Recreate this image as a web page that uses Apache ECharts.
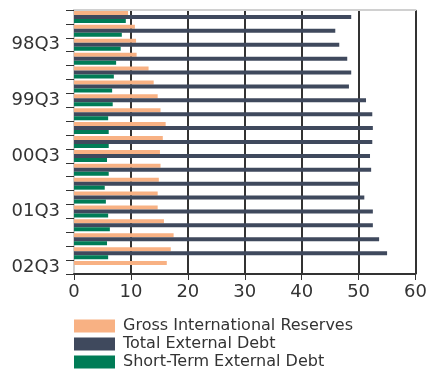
<!DOCTYPE html>
<html>
<head>
<meta charset="utf-8">
<script src="https://cdn.jsdelivr.net/npm/echarts@6/dist/echarts.min.js"></script>
<style>html,body{margin:0;padding:0;background:#fff}#c{width:430px;height:369px}</style>
</head>
<body>
<div id="c"></div>
<script>
var categories = ['98Q1','98Q2','98Q3','98Q4','99Q1','99Q2','99Q3','99Q4','00Q1','00Q2','00Q3','00Q4','01Q1','01Q2','01Q3','01Q4','02Q1','02Q2','02Q3'];
var grossReserves = [9.5,10.7,10.9,11.0,13.1,14.0,14.7,15.2,16.1,15.6,15.1,15.2,14.9,14.7,14.7,15.8,17.5,17.0,16.3];
var totalDebt = [48.7,45.9,46.6,48.0,48.7,48.3,51.3,52.4,52.5,52.4,52.0,52.2,50.1,51.0,52.5,52.5,53.6,55.0,null];
var shortTermDebt = [9.1,8.4,8.2,7.4,7.0,6.7,6.8,6.0,6.1,6.1,5.8,6.1,5.4,5.6,6.0,6.3,5.8,6.0,null];
var xTicks = {min:0, max:60, interval:10};
var names = ['Gross International Reserves','Total External Debt','Short-Term External Debt'];
var colors = ['#F8B183','#3F495D','#007C56'];
var font = 'DejaVu Sans';

var chart = echarts.init(document.getElementById('c'), null, {renderer:'canvas'});
chart.setOption({
  animation:false,
  color: colors,
  grid:{left:74, right:13, top:10, bottom:95, containLabel:false},
  legend:{
    orient:'vertical', left:74, top:318, height:60, width:340, padding:0,
    itemWidth:41, itemHeight:13, itemGap:2,
    icon:'rect', textStyle:{fontFamily:font, fontSize:16, color:'#333', padding:[0,0,0,3]},
    data:names
  },
  xAxis:[{
    type:'value', min:xTicks.min, max:xTicks.max, interval:xTicks.interval,
    axisLine:{show:true, lineStyle:{color:'#333', width:2}},
    axisTick:{show:true, length:6, lineStyle:{color:'#333', width:1}},
    axisLabel:{fontFamily:font, fontSize:18, color:'#333', margin:9},
    splitLine:{show:true, lineStyle:{color:'#333', width:2}}
  },{
    type:'value', position:'top', min:xTicks.min, max:xTicks.max, interval:xTicks.interval,
    axisLine:{show:true, lineStyle:{color:'#d0d0d0', width:2}},
    axisTick:{show:false}, axisLabel:{show:false}, splitLine:{show:false}
  }],
  yAxis:{
    type:'category', data:categories, inverse:true,
    axisLine:{show:true, lineStyle:{color:'#cfcfcf', width:2}},
    axisTick:{show:true, length:8, interval:0, lineStyle:{color:'#333', width:1}},
    axisLabel:{fontFamily:font, fontSize:18, color:'#333', margin:14,
      interval:function(i){return i%4===2;}},
    splitLine:{show:false}
  },
  series:[
    {name:names[0], type:'bar', data:grossReserves, barWidth:4, barGap:'0%', xAxisIndex:0},
    {name:names[1], type:'bar', data:totalDebt, barWidth:4, barGap:'0%', xAxisIndex:0},
    {name:names[2], type:'bar', data:shortTermDebt, barWidth:4, barGap:'0%', xAxisIndex:0}
  ]
});
</script>
</body>
</html>
